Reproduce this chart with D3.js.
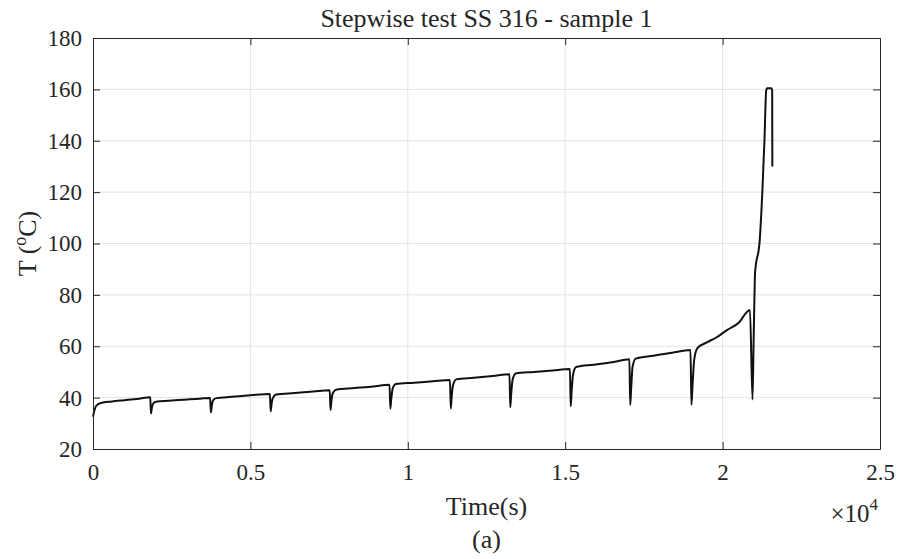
<!DOCTYPE html>
<html>
<head>
<meta charset="utf-8">
<script src="https://cdn.jsdelivr.net/npm/d3@7"></script>
<style>
  html, body { margin: 0; padding: 0; background: #fff; }
  svg text { font-family: "Liberation Serif", "Times New Roman", serif; fill: #262626; }
</style>
</head>
<body>
<svg id="chart" width="899" height="559"></svg>
<script>
// Temperature log of the stepwise loading test (time in seconds, temperature in °C)
const timeS = [
  0, 40, 100, 250, 600, 1000, 1400, 1820,
  1840, 1870, 1910, 2000, 2400, 2900, 3400, 3720,
  3745, 3775, 3820, 3920, 4400, 5000, 5620,
  5645, 5675, 5720, 5820, 6400, 7000, 7520,
  7545, 7575, 7620, 7720, 8300, 8900, 9420,
  9445, 9475, 9520, 9620, 10200, 10800, 11340,
  11365, 11395, 11440, 11540, 12100, 12700, 13230,
  13255, 13285, 13330, 13430, 14000, 14600, 15150,
  15175, 15205, 15250, 15350, 15900, 16500, 17040,
  17065, 17095, 17140, 17240, 17800, 18400, 18980,
  19010, 19050, 19100, 19200, 19500, 19800, 20140, 20500, 20870,
  20950, 20985, 21010, 21030, 21180, 21260, 21330, 21385, 21410, 21550, 21575, 21580
];
const tempC = [
  32.6, 34.8, 36.8, 37.9, 38.5, 39.0, 39.5, 40.1,
  33.8, 36.0, 37.6, 38.4, 38.8, 39.2, 39.6, 39.9,
  34.2, 37.0, 39.0, 39.8, 40.3, 40.9, 41.4,
  34.6, 37.8, 40.0, 41.2, 41.8, 42.4, 42.9,
  35.2, 38.8, 41.8, 43.1, 43.7, 44.3, 45.0,
  35.7, 39.5, 43.5, 45.3, 45.8, 46.4, 46.9,
  35.8, 40.5, 45.0, 47.1, 47.7, 48.4, 49.1,
  36.3, 41.5, 47.0, 49.4, 50.0, 50.6, 51.1,
  36.6, 42.5, 49.0, 51.9, 52.8, 53.8, 54.9,
  37.2, 43.5, 52.0, 55.2, 56.3, 57.5, 58.5,
  37.2, 46.0, 55.0, 59.3, 61.5, 63.4, 66.3, 69.0, 74.1,
  39.3, 62.0, 78.0, 88.4, 101.4, 119.5, 140.3, 159.6, 160.4, 160.4, 159.6, 130.0
];

const xTicks = [0, 5000, 10000, 15000, 20000, 25000];
const xTickLabels = ["0", "0.5", "1", "1.5", "2", "2.5"];
const yTicks = [20, 40, 60, 80, 100, 120, 140, 160, 180];

const svg = d3.select("#chart");
const margin = { left: 93, right: 19, top: 38, bottom: 110 };
const W = 899, H = 559;
const x0 = margin.left, x1 = W - margin.right;
const y0 = margin.top, y1 = H - margin.bottom;

const x = d3.scaleLinear().domain([0, 25000]).range([x0, x1]);
const y = d3.scaleLinear().domain([20, 180]).range([y1, y0]);

const axisColor = "#262626";
const gridColor = "#e3e3e3";
const tickLen = 7;

// grid
const grid = svg.append("g");
grid.selectAll("line.gx").data(xTicks.slice(1, -1)).join("line")
  .attr("x1", d => x(d)).attr("x2", d => x(d))
  .attr("y1", y0).attr("y2", y1)
  .attr("stroke", gridColor).attr("stroke-width", 1);
grid.selectAll("line.gy").data(yTicks.slice(1, -1)).join("line")
  .attr("x1", x0).attr("x2", x1)
  .attr("y1", d => y(d)).attr("y2", d => y(d))
  .attr("stroke", gridColor).attr("stroke-width", 1);

// data line
const pts = timeS.map((t, i) => [t, tempC[i]]);
svg.append("path")
  .datum(pts)
  .attr("fill", "none")
  .attr("stroke", "#111")
  .attr("stroke-width", 2)
  .attr("stroke-linejoin", "round")
  .attr("d", d3.line().x(d => x(d[0])).y(d => y(d[1])).curve(d3.curveMonotoneX));

// axes: bottom/left with labels, top/right as box with inward ticks
const fontTick = 23;
const xAxis = d3.axisBottom(x).tickValues(xTicks)
  .tickFormat((d, i) => xTickLabels[i]).tickSizeInner(-tickLen).tickSizeOuter(0).tickPadding(15);
const yAxis = d3.axisLeft(y).tickValues(yTicks)
  .tickFormat(d3.format("d")).tickSizeInner(-tickLen).tickSizeOuter(0).tickPadding(11);
const xTop = d3.axisTop(x).tickValues(xTicks).tickFormat("").tickSizeInner(-tickLen).tickSizeOuter(0);
const yRight = d3.axisRight(y).tickValues(yTicks).tickFormat("").tickSizeInner(-tickLen).tickSizeOuter(0);

function styleAxis(g) {
  g.select(".domain").attr("stroke", axisColor).attr("stroke-width", 1);
  g.selectAll(".tick line").attr("stroke", axisColor).attr("stroke-width", 1);
  g.selectAll(".tick text")
    .attr("font-family", "Liberation Serif, Times New Roman, serif")
    .attr("font-size", fontTick).attr("fill", axisColor);
}
svg.append("g").attr("transform", `translate(0,${y1})`).call(xAxis).call(styleAxis);
svg.append("g").attr("transform", `translate(${x0},0)`).call(yAxis).call(styleAxis);
svg.append("g").attr("transform", `translate(0,${y0})`).call(xTop).call(styleAxis);
svg.append("g").attr("transform", `translate(${x1},0)`).call(yRight).call(styleAxis);

// titles and labels
const fontLabel = 26;
svg.append("text")
  .attr("x", (x0 + x1) / 2).attr("y", 27)
  .attr("text-anchor", "middle").attr("font-size", fontLabel)
  .text("Stepwise test SS 316 - sample 1");

svg.append("text")
  .attr("x", (x0 + x1) / 2).attr("y", 515)
  .attr("text-anchor", "middle").attr("font-size", fontLabel)
  .text("Time(s)");

svg.append("text")
  .attr("x", (x0 + x1) / 2).attr("y", 548)
  .attr("text-anchor", "middle").attr("font-size", fontLabel)
  .text("(a)");

const yl = svg.append("text")
  .attr("transform", `translate(36,${(y0 + y1) / 2}) rotate(-90)`)
  .attr("text-anchor", "middle").attr("font-size", fontLabel);
yl.append("tspan").text("T (");
yl.append("tspan").attr("font-size", 18).attr("dy", -10).text("o");
yl.append("tspan").attr("dy", 10).text("C)");

const mult = svg.append("text")
  .attr("x", x1 - 2).attr("y", 522)
  .attr("text-anchor", "end").attr("font-size", 25);
mult.append("tspan").text("\u00d710");
mult.append("tspan").attr("font-size", 17).attr("dy", -12).text("4");
</script>
</body>
</html>
